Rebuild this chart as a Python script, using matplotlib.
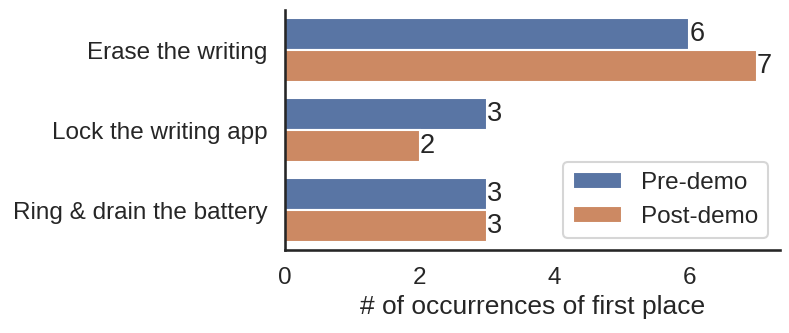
import matplotlib
matplotlib.use("Agg")
import matplotlib.pyplot as plt
import seaborn as sns
import pandas as pd

categories = ["Erase the writing", "Lock the writing app", "Ring & drain the battery"]
series_names = ["Pre-demo", "Post-demo"]
pre_demo = [6, 3, 3]
post_demo = [7, 2, 3]

FS = 17.5
sns.set_theme(style="white", context="talk",
              rc={"xtick.labelsize": FS, "ytick.labelsize": FS,
                  "axes.labelsize": 19, "legend.fontsize": FS})
plt.rcParams["font.family"] = ["Liberation Sans", "DejaVu Sans"]

df = pd.DataFrame({
    "task": categories * 2,
    "count": pre_demo + post_demo,
    "phase": [series_names[0]] * 3 + [series_names[1]] * 3,
})

fig = plt.figure(figsize=(7.89, 3.33), dpi=100)
ax = fig.add_axes([0.361, 0.249, 0.628, 0.721])
sns.barplot(data=df, y="task", x="count", hue="phase", orient="h", ax=ax,
            palette="deep", order=categories, hue_order=series_names)
for c in ax.containers:
    ax.bar_label(c, fontsize=19.5, padding=0)
ax.set_ylabel("")
ax.set_xlabel("# of occurrences of first place")
ax.set_xticks([0, 2, 4, 6])
ax.legend(loc="lower right", title=None)
sns.despine(ax=ax)
ax.spines["left"].set_color("#262626")
ax.spines["bottom"].set_color("#262626")
fig.savefig("out.png", dpi=100)
